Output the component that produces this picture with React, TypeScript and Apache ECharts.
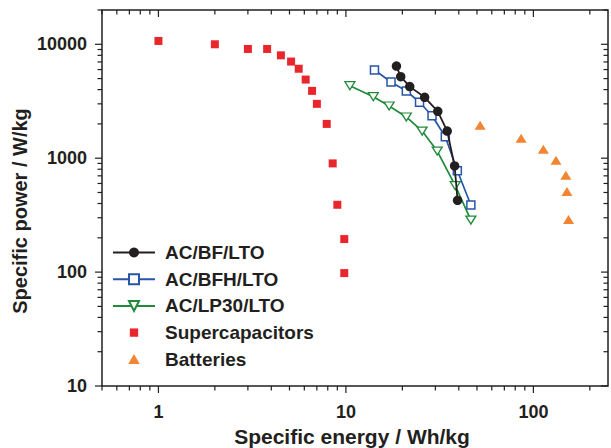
import React, { useEffect, useRef } from 'react';
import * as echarts from 'echarts';

// ---- data ----
const bfEnergy = [18.6, 19.6, 21.9, 26.3, 30.9, 34.7, 38.0, 39.4];
const bfPower = [6440, 5200, 4250, 3425, 2580, 1730, 855, 427];
const bfhEnergy = [14.2, 17.4, 21.0, 24.7, 28.8, 33.9, 39.3, 46.4];
const bfhPower = [5950, 4665, 3890, 3100, 2360, 1545, 776, 388];
const lp30Energy = [10.5, 14.0, 17.0, 21.0, 25.5, 30.7, 38.3, 46.4];
const lp30Power = [4330, 3467, 2870, 2300, 1730, 1155, 574, 286];
const scEnergy = [1.0, 2.0, 3.0, 3.8, 4.5, 5.1, 5.6, 6.1, 6.6, 7.0, 7.9, 8.5, 9.0, 9.8, 9.8];
const scPower = [10700, 10000, 9100, 9100, 8000, 7050, 6100, 4900, 3900, 3000, 2000, 900, 390, 195, 98];
const batEnergy = [52, 86, 113, 132, 149, 151, 154];
const batPower = [1950, 1500, 1200, 960, 710, 510, 290];

const seriesNames = ['AC/BF/LTO', 'AC/BFH/LTO', 'AC/LP30/LTO', 'Supercapacitors', 'Batteries'];

const X_MIN = 0.5;
const X_MAX = 250;
const Y_MIN = 10;
const Y_MAX = 20000;
const xTickValues = [0.5, 0.6, 0.7, 0.8, 0.9, 1, 2, 3, 4, 5, 6, 7, 8, 9, 10, 20, 30, 40, 50, 60, 70, 80, 90, 100, 200];
const yTickValues = [10, 20, 30, 40, 50, 60, 70, 80, 90, 100, 200, 300, 400, 500, 600, 700, 800, 900,
  1000, 2000, 3000, 4000, 5000, 6000, 7000, 8000, 9000, 10000, 20000];

const xTitle = 'Specific energy / Wh/kg';
const yTitle = 'Specific power / W/kg';

const INK = '#231f20';
const FONT = '"Liberation Sans", Arial, Helvetica, sans-serif';

const isPow10 = (v: number) => Math.abs(Math.log10(v) - Math.round(Math.log10(v))) < 1e-6;
const zip = (a: number[], b: number[]) => a.map((v, i) => [v, b[i]]);

export default function App() {
  const ref = useRef<HTMLDivElement>(null);
  useEffect(() => {
    if (!ref.current) return;
    const chart = echarts.init(ref.current, null, { renderer: 'svg' });
    const labelStyle = { fontFamily: FONT, fontWeight: 'bold' as const, fontSize: 18, color: INK };
    const option: any = {
      animation: false,
      backgroundColor: '#ffffff',
      grid: { left: 102, right: 1, top: 10, bottom: 62, show: true, borderColor: INK, borderWidth: 1.5, backgroundColor: 'transparent' },
      xAxis: {
        type: 'log', logBase: 10, min: X_MIN, max: X_MAX,
        axisLine: { show: false }, axisTick: { show: false }, splitLine: { show: false },
        axisLabel: { ...labelStyle, margin: 17, formatter: (v: number) => (isPow10(v) ? String(Math.round(v)) : '') },
      },
      yAxis: {
        type: 'log', logBase: 10, min: Y_MIN, max: Y_MAX,
        axisLine: { show: false }, axisTick: { show: false }, splitLine: { show: false },
        axisLabel: { ...labelStyle, margin: 15, formatter: (v: number) => (isPow10(v) ? String(Math.round(v)) : '') },
      },
      legend: {
        orient: 'vertical', left: 112, top: 243, padding: 0, itemGap: 7.7,
        itemWidth: 42, itemHeight: 12.5,
        textStyle: { fontFamily: FONT, fontWeight: 'bold', fontSize: 19, color: INK, lineHeight: 18, padding: [0, 0, 0, 5] },
        data: [
          { name: seriesNames[0] },
          { name: seriesNames[1] },
          { name: seriesNames[2] },
          { name: seriesNames[3], icon: 'path://M0,0M12,12M2,2L10,2L10,10L2,10Z' },
          { name: seriesNames[4], icon: 'path://M0,0M12,12M0.5,10.5L6,1L11.5,10.5Z' },
        ],
      },
      graphic: [
        { type: 'text', x: 352, y: 436, style: { text: xTitle, font: `bold 21px ${FONT}`, fill: INK, textAlign: 'center', textVerticalAlign: 'middle' } },
        { type: 'text', x: 19.5, y: 211, rotation: Math.PI / 2, style: { text: yTitle, font: `bold 20px ${FONT}`, fill: INK, textAlign: 'center', textVerticalAlign: 'middle' } },
      ],
      series: [
        {
          name: seriesNames[0], type: 'line', data: zip(bfEnergy, bfPower),
          symbol: 'circle', symbolSize: 9.5,
          lineStyle: { color: INK, width: 1.8 }, itemStyle: { color: INK }, z: 4,
        },
        {
          name: seriesNames[1], type: 'line', data: zip(bfhEnergy, bfhPower),
          symbol: 'rect', symbolSize: 8,
          lineStyle: { color: '#2756a6', width: 1.7 }, itemStyle: { color: '#ffffff', borderColor: '#2756a6', borderWidth: 1.5 }, z: 3,
        },
        {
          name: seriesNames[2], type: 'line', data: zip(lp30Energy, lp30Power),
          symbol: 'triangle', symbolRotate: 180, symbolSize: [10, 8],
          lineStyle: { color: '#218a3b', width: 1.7 }, itemStyle: { color: '#ffffff', borderColor: '#218a3b', borderWidth: 1.3 }, z: 2,
        },
        {
          name: seriesNames[3], type: 'scatter', data: zip(scEnergy, scPower),
          symbol: 'rect', symbolSize: 8, itemStyle: { color: '#e8262c', opacity: 1 },
        },
        {
          name: seriesNames[4], type: 'scatter', data: zip(batEnergy, batPower),
          symbol: 'triangle', symbolSize: [11, 9], itemStyle: { color: '#f28432', opacity: 1 },
        },
        {
          name: 'xticks', type: 'custom', silent: true, z: 6,
          data: xTickValues.map((v) => [v, Y_MIN, isPow10(v) ? 1 : 0]),
          encode: { x: 0, y: 1 },
          renderItem: (_p: any, api: any) => {
            const v = api.value(0);
            const len = api.value(2) === 1 ? 7 : 4.5;
            const b = api.coord([v, Y_MIN]);
            const t = api.coord([v, Y_MAX]);
            const st = { stroke: INK, lineWidth: 1.2 };
            return {
              type: 'group', children: [
                { type: 'line', shape: { x1: b[0], y1: b[1], x2: b[0], y2: b[1] + len }, style: st },
                { type: 'line', shape: { x1: t[0], y1: t[1], x2: t[0], y2: t[1] + len }, style: st },
              ],
            };
          },
        },
        {
          name: 'yticks', type: 'custom', silent: true, z: 6,
          data: yTickValues.map((v) => [X_MIN, v, isPow10(v) ? 1 : 0]),
          encode: { x: 0, y: 1 },
          renderItem: (_p: any, api: any) => {
            const v = api.value(1);
            const len = api.value(2) === 1 ? 7 : 4.5;
            const l = api.coord([X_MIN, v]);
            const r = api.coord([X_MAX, v]);
            const st = { stroke: INK, lineWidth: 1.2 };
            return {
              type: 'group', children: [
                { type: 'line', shape: { x1: l[0], y1: l[1], x2: l[0] - len, y2: l[1] }, style: st },
                { type: 'line', shape: { x1: r[0], y1: r[1], x2: r[0] - len, y2: r[1] }, style: st },
              ],
            };
          },
        },
      ],
    };
    chart.setOption(option);
    return () => chart.dispose();
  }, []);
  return <div ref={ref} style={{ position: 'absolute', left: 0, top: 0, width: 611, height: 448 }} />;
}
